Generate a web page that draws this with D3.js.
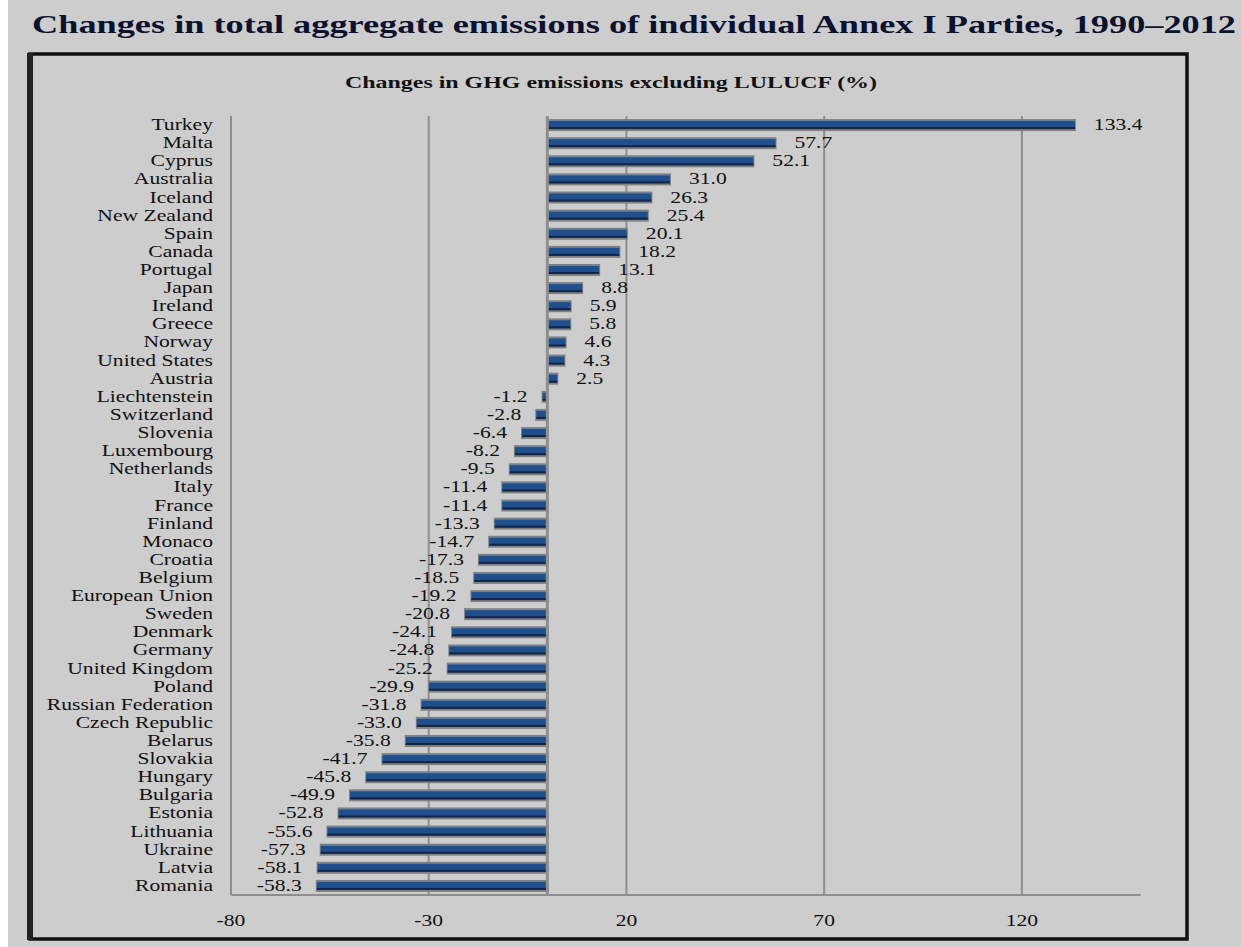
<!DOCTYPE html>
<html>
<head>
<meta charset="utf-8">
<script src="https://cdn.jsdelivr.net/npm/d3@7/dist/d3.min.js"></script>
<style>
  html, body { margin: 0; padding: 0; background: #fff; }
  text { font-family: "Liberation Serif", "Times New Roman", serif; }
</style>
</head>
<body>
<div id="chart"></div>
<script>
const width = 1241;
const height = 947;

// Données
const countries = [
  "Turkey", "Malta", "Cyprus", "Australia", "Iceland", "New Zealand", "Spain",
  "Canada", "Portugal", "Japan", "Ireland", "Greece", "Norway", "United States",
  "Austria", "Liechtenstein", "Switzerland", "Slovenia", "Luxembourg", "Netherlands",
  "Italy", "France", "Finland", "Monaco", "Croatia", "Belgium", "European Union",
  "Sweden", "Denmark", "Germany", "United Kingdom", "Poland", "Russian Federation",
  "Czech Republic", "Belarus", "Slovakia", "Hungary", "Bulgaria", "Estonia",
  "Lithuania", "Ukraine", "Latvia", "Romania"
];
const changes = [
  133.4, 57.7, 52.1, 31.0, 26.3, 25.4, 20.1, 18.2, 13.1, 8.8, 5.9, 5.8, 4.6, 4.3,
  2.5, -1.2, -2.8, -6.4, -8.2, -9.5, -11.4, -11.4, -13.3, -14.7, -17.3, -18.5,
  -19.2, -20.8, -24.1, -24.8, -25.2, -29.9, -31.8, -33.0, -35.8, -41.7, -45.8,
  -49.9, -52.8, -55.6, -57.3, -58.1, -58.3
];
const xTicks = [-80, -30, 20, 70, 120];

const data = countries.map((c, i) => ({ country: c, value: changes[i] }));

const svg = d3.select("#chart")
  .append("svg")
  .attr("width", width)
  .attr("height", height);

// fond gris
svg.append("rect")
  .attr("x", 8).attr("y", 0)
  .attr("width", width - 8).attr("height", height)
  .attr("fill", "#cdcdcd");

// titre
svg.append("text")
  .attr("x", 32).attr("y", 33)
  .attr("textLength", 1204)
  .attr("lengthAdjust", "spacingAndGlyphs")
  .attr("font-size", 26)
  .attr("font-weight", "bold")
  .attr("fill", "#0b1230")
  .text("Changes in total aggregate emissions of individual Annex I Parties, 1990\u20132012");

// cadre
svg.append("rect")
  .attr("x", 30).attr("y", 54)
  .attr("width", 1157).attr("height", 885)
  .attr("fill", "none")
  .attr("stroke", "#111")
  .attr("stroke-width", 3.5);
svg.append("line")
  .attr("x1", 30).attr("x2", 30).attr("y1", 53).attr("y2", 940)
  .attr("stroke", "#222").attr("stroke-width", 6);

svg.append("text")
  .attr("x", 345).attr("y", 88)
  .attr("textLength", 532)
  .attr("lengthAdjust", "spacingAndGlyphs")
  .attr("font-size", 16)
  .attr("font-weight", "bold")
  .attr("fill", "#111")
  .text("Changes in GHG emissions excluding LULUCF (%)");

// échelles
const x = d3.scaleLinear().domain([-80, 150]).range([231, 1140.5]);
const y = d3.scaleBand().domain(countries).range([116, 895]).paddingInner(0);

const stretch = 1.35;
const fmt = v => v.toFixed(1);

// grille
svg.append("g")
  .selectAll("line")
  .data(xTicks)
  .enter()
  .append("line")
  .attr("x1", d => x(d)).attr("x2", d => x(d))
  .attr("y1", 116).attr("y2", 895)
  .attr("stroke", "#8e8e8e")
  .attr("stroke-width", 2);

// axe horizontal
svg.append("line")
  .attr("x1", x(-80)).attr("x2", x(150))
  .attr("y1", 895).attr("y2", 895)
  .attr("stroke", "#8e8e8e")
  .attr("stroke-width", 2);

svg.append("g")
  .selectAll("text")
  .data(xTicks)
  .enter()
  .append("text")
  .attr("transform", d => `translate(${x(d)},926) scale(${stretch},1)`)
  .attr("text-anchor", "middle")
  .attr("font-size", 16)
  .attr("fill", "#111")
  .text(d => d);

// barres
const bh = 8;
const bars = svg.append("g")
  .selectAll("g")
  .data(data)
  .enter()
  .append("g");

bars.append("rect")
  .attr("x", d => Math.min(x(0), x(d.value)) - 1)
  .attr("y", d => y(d.country) + y.bandwidth() / 2 - bh / 2 - 2)
  .attr("width", d => Math.abs(x(d.value) - x(0)) + 2)
  .attr("height", bh + 4)
  .attr("fill", "#808080");

bars.append("rect")
  .attr("x", d => Math.min(x(0), x(d.value)))
  .attr("y", d => y(d.country) + y.bandwidth() / 2 - bh / 2)
  .attr("width", d => Math.abs(x(d.value) - x(0)))
  .attr("height", bh)
  .attr("fill", "#1f4f8c");

bars.append("rect")
  .attr("x", d => Math.min(x(0), x(d.value)))
  .attr("y", d => y(d.country) + y.bandwidth() / 2 + bh / 2 - 2)
  .attr("width", d => Math.abs(x(d.value) - x(0)))
  .attr("height", 2)
  .attr("fill", "#0d2550");

// ligne zéro
svg.append("line")
  .attr("x1", x(0)).attr("x2", x(0))
  .attr("y1", 116).attr("y2", 895)
  .attr("stroke", "#8e8e8e")
  .attr("stroke-width", 3);

// étiquettes de valeurs
bars.append("text")
  .attr("transform", d => {
    const tx = d.value >= 0 ? x(d.value) + 19 : x(d.value) - 15;
    return `translate(${tx},${y(d.country) + y.bandwidth() / 2 + 5}) scale(${stretch},1)`;
  })
  .attr("text-anchor", d => d.value >= 0 ? "start" : "end")
  .attr("font-size", 16)
  .attr("fill", "#111")
  .text(d => fmt(d.value));

// étiquettes des pays
svg.append("g")
  .selectAll("text")
  .data(countries)
  .enter()
  .append("text")
  .attr("transform", d => `translate(213,${y(d) + y.bandwidth() / 2 + 5}) scale(${stretch},1)`)
  .attr("text-anchor", "end")
  .attr("font-size", 16)
  .attr("fill", "#111")
  .text(d => d);
</script>
</body>
</html>
